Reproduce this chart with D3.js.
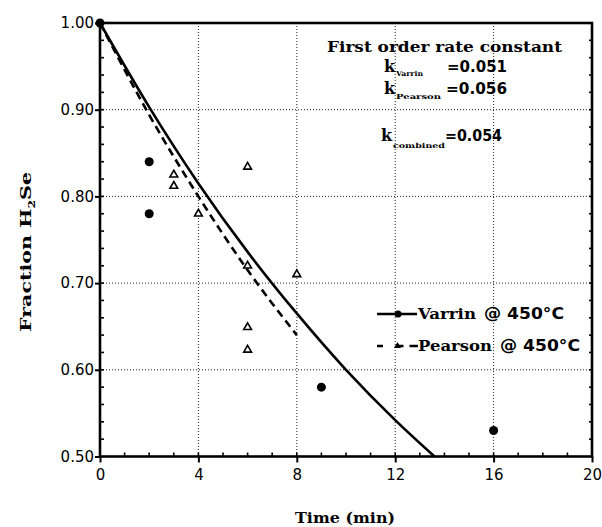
<!DOCTYPE html>
<html>
<head>
<meta charset="utf-8">
<script src="https://cdn.jsdelivr.net/npm/d3@7"></script>
<style>
  body { margin: 0; background: #fff; }
  svg { display: block; }
</style>
</head>
<body>
<svg id="chart" width="602" height="527"></svg>
<script>
// Axis ticks
const xTicks = [0, 4, 8, 12, 16, 20];
const yTicks = [0.50, 0.60, 0.70, 0.80, 0.90, 1.00];

// Measured fraction of H2Se remaining
const varrinTime = [0, 2, 2, 9, 16];
const varrinFraction = [1.00, 0.84, 0.78, 0.58, 0.53];
const pearsonTime = [3, 3, 4, 6, 6, 6, 6, 8];
const pearsonFraction = [0.825, 0.812, 0.78, 0.834, 0.72, 0.649, 0.623, 0.71];

// First-order fit curves
const varrinFitTime = [0, 2, 4, 6, 8, 10, 12, 13.6];
const varrinFitFraction = [1.00, 0.903, 0.815, 0.736, 0.665, 0.600, 0.542, 0.50];
const pearsonFitTime = [0, 2, 4, 6, 8];
const pearsonFitFraction = [1.00, 0.894, 0.80, 0.715, 0.64];

// Rate constants
const rateNames = ["Varrin", "Pearson", "combined"];
const rateValues = ["0.051", "0.056", "0.054"];
const seriesNames = ["Varrin", "Pearson"];
const seriesCondition = "@ 450°C";

const svg = d3.select("#chart");
const serif = "'DejaVu Serif', 'Liberation Serif', serif";
const sans = "'DejaVu Sans', 'Liberation Sans', sans-serif";

const x = d3.scaleLinear().domain([0, 20]).range([100, 592]);
const y = d3.scaleLinear().domain([0.5, 1.0]).range([456.5, 23]);

// Dotted grid
const grid = svg.append("g").attr("stroke", "#222").attr("stroke-width", 1)
  .attr("stroke-dasharray", "1,2");
grid.selectAll("line.v").data(xTicks.slice(1, -1)).join("line")
  .attr("x1", d => x(d)).attr("x2", d => x(d))
  .attr("y1", y(1.0)).attr("y2", y(0.5));
grid.selectAll("line.h").data(yTicks.slice(1, -1)).join("line")
  .attr("x1", x(0)).attr("x2", x(20))
  .attr("y1", d => y(d)).attr("y2", d => y(d));

// Axes
const yAxis = d3.axisLeft(y).tickValues(yTicks).tickFormat(d3.format(".2f"))
  .tickSize(5).tickPadding(1);
const xAxis = d3.axisBottom(x).tickValues(xTicks).tickFormat(d3.format("d"))
  .tickSize(6).tickPadding(7);

function styleAxis(g) {
  g.select(".domain").remove();
  g.selectAll(".tick line").attr("stroke", "#000").attr("stroke-width", 2);
  g.selectAll(".tick text").attr("fill", "#000")
    .style("font-family", sans).style("font-size", "15px");
}
svg.append("g").attr("transform", `translate(${x(0)},0)`).call(yAxis).call(styleAxis);
svg.append("g").attr("transform", `translate(0,${y(0.5)})`).call(xAxis).call(styleAxis);

// Minor ticks pointing inward
const yMinor = d3.range(0.52, 0.999, 0.02);
const xMinor = d3.range(1, 20, 1);
const minor = svg.append("g").attr("stroke", "#000").attr("stroke-width", 1.6);
minor.selectAll("line.ly").data(yMinor).join("line")
  .attr("x1", x(0)).attr("x2", x(0) + 4)
  .attr("y1", d => y(d)).attr("y2", d => y(d));
minor.selectAll("line.ry").data(yMinor).join("line")
  .attr("x1", x(20)).attr("x2", x(20) - 3)
  .attr("y1", d => y(d)).attr("y2", d => y(d));
minor.selectAll("line.bx").data(xMinor).join("line")
  .attr("x1", d => x(d)).attr("x2", d => x(d))
  .attr("y1", y(0.5)).attr("y2", y(0.5) - 4);

// Plot frame
svg.append("rect")
  .attr("x", x(0)).attr("y", y(1.0))
  .attr("width", x(20) - x(0)).attr("height", y(0.5) - y(1.0))
  .attr("fill", "none").attr("stroke", "#000").attr("stroke-width", 2.6);

// Fit curves
const line = d3.line().x(d => x(d[0])).y(d => y(d[1])).curve(d3.curveMonotoneX);
svg.append("path")
  .datum(d3.zip(varrinFitTime, varrinFitFraction))
  .attr("d", line).attr("fill", "none")
  .attr("stroke", "#000").attr("stroke-width", 2.6);
svg.append("path")
  .datum(d3.zip(pearsonFitTime, pearsonFitFraction))
  .attr("d", line).attr("fill", "none")
  .attr("stroke", "#000").attr("stroke-width", 2.6)
  .attr("stroke-dasharray", "8,5");

// Data points
svg.append("g").selectAll("circle")
  .data(d3.zip(varrinTime, varrinFraction)).join("circle")
  .attr("cx", d => x(d[0])).attr("cy", d => y(d[1]))
  .attr("r", 4.5).attr("fill", "#000");
const tri = d3.symbol().type(d3.symbolTriangle).size(26);
svg.append("g").selectAll("path")
  .data(d3.zip(pearsonTime, pearsonFraction)).join("path")
  .attr("transform", d => `translate(${x(d[0])},${y(d[1])})`)
  .attr("d", tri).attr("fill", "#fff")
  .attr("stroke", "#000").attr("stroke-width", 1.6);

// Axis titles
svg.append("text")
  .attr("x", 345).attr("y", 523).attr("text-anchor", "middle")
  .attr("textLength", 100).attr("lengthAdjust", "spacingAndGlyphs")
  .style("font-family", serif).style("font-weight", "bold").style("font-size", "14px")
  .text("Time (min)");
const yt = svg.append("text")
  .attr("transform", "translate(31,252) rotate(-90)")
  .attr("text-anchor", "middle")
  .attr("textLength", 160).attr("lengthAdjust", "spacingAndGlyphs")
  .style("font-family", serif).style("font-weight", "bold").style("font-size", "15px");
yt.append("tspan").text("Fraction H");
yt.append("tspan").attr("dy", 4).style("font-size", "9px").text("2");
yt.append("tspan").attr("dy", -4).text("Se");

// Rate constant annotation
const note = svg.append("g")
  .style("font-family", serif).style("font-weight", "bold").attr("fill", "#000");
note.append("text").attr("x", 327).attr("y", 52)
  .attr("textLength", 235).attr("lengthAdjust", "spacingAndGlyphs")
  .style("font-size", "15px").text("First order rate constant");
const noteRows = [
  { k: 384, ky: 72, sub: 396, subY: 76, subW: 27, eq: 447, eqW: 60 },
  { k: 384, ky: 94, sub: 396, subY: 99, subW: 45, eq: 446, eqW: 61 },
  { k: 381, ky: 141, sub: 393, subY: 148, subW: 52, eq: 445, eqW: 57 }
];
noteRows.forEach((r, i) => {
  note.append("text").attr("x", r.k).attr("y", r.ky)
    .style("font-size", "16px").text("k");
  note.append("text").attr("x", r.sub).attr("y", r.subY)
    .attr("textLength", r.subW).attr("lengthAdjust", "spacingAndGlyphs")
    .style("font-size", "7px").text(rateNames[i]);
  note.append("text").attr("x", r.eq).attr("y", r.ky)
    .attr("textLength", r.eqW).attr("lengthAdjust", "spacingAndGlyphs")
    .style("font-family", sans).style("font-size", "15px")
    .text("=" + rateValues[i]);
});

// Legend
const legend = svg.append("g");
const legY = [314, 346];
legend.append("line").attr("x1", 377).attr("x2", 417)
  .attr("y1", legY[0]).attr("y2", legY[0])
  .attr("stroke", "#000").attr("stroke-width", 2.6);
legend.append("circle").attr("cx", 398).attr("cy", legY[0]).attr("r", 3.5).attr("fill", "#000");
legend.append("line").attr("x1", 377).attr("x2", 418)
  .attr("y1", legY[1]).attr("y2", legY[1])
  .attr("stroke", "#000").attr("stroke-width", 2.6)
  .attr("stroke-dasharray", "6,14.5,6");
legend.append("path")
  .attr("transform", `translate(397.5,${legY[1]})`)
  .attr("d", d3.symbol().type(d3.symbolTriangle).size(22))
  .attr("fill", "#000");
const nameW = [58, 74];
seriesNames.forEach((name, i) => {
  legend.append("text").attr("x", 418).attr("y", legY[i] + 5)
    .attr("textLength", nameW[i]).attr("lengthAdjust", "spacingAndGlyphs")
    .style("font-family", serif).style("font-weight", "bold").style("font-size", "15px")
    .text(name);
  legend.append("text").attr("x", 418 + nameW[i] + 8).attr("y", legY[i] + 5)
    .attr("textLength", 80).attr("lengthAdjust", "spacingAndGlyphs")
    .style("font-family", sans).style("font-weight", "bold").style("font-size", "15px")
    .text(seriesCondition);
});
</script>
</body>
</html>
